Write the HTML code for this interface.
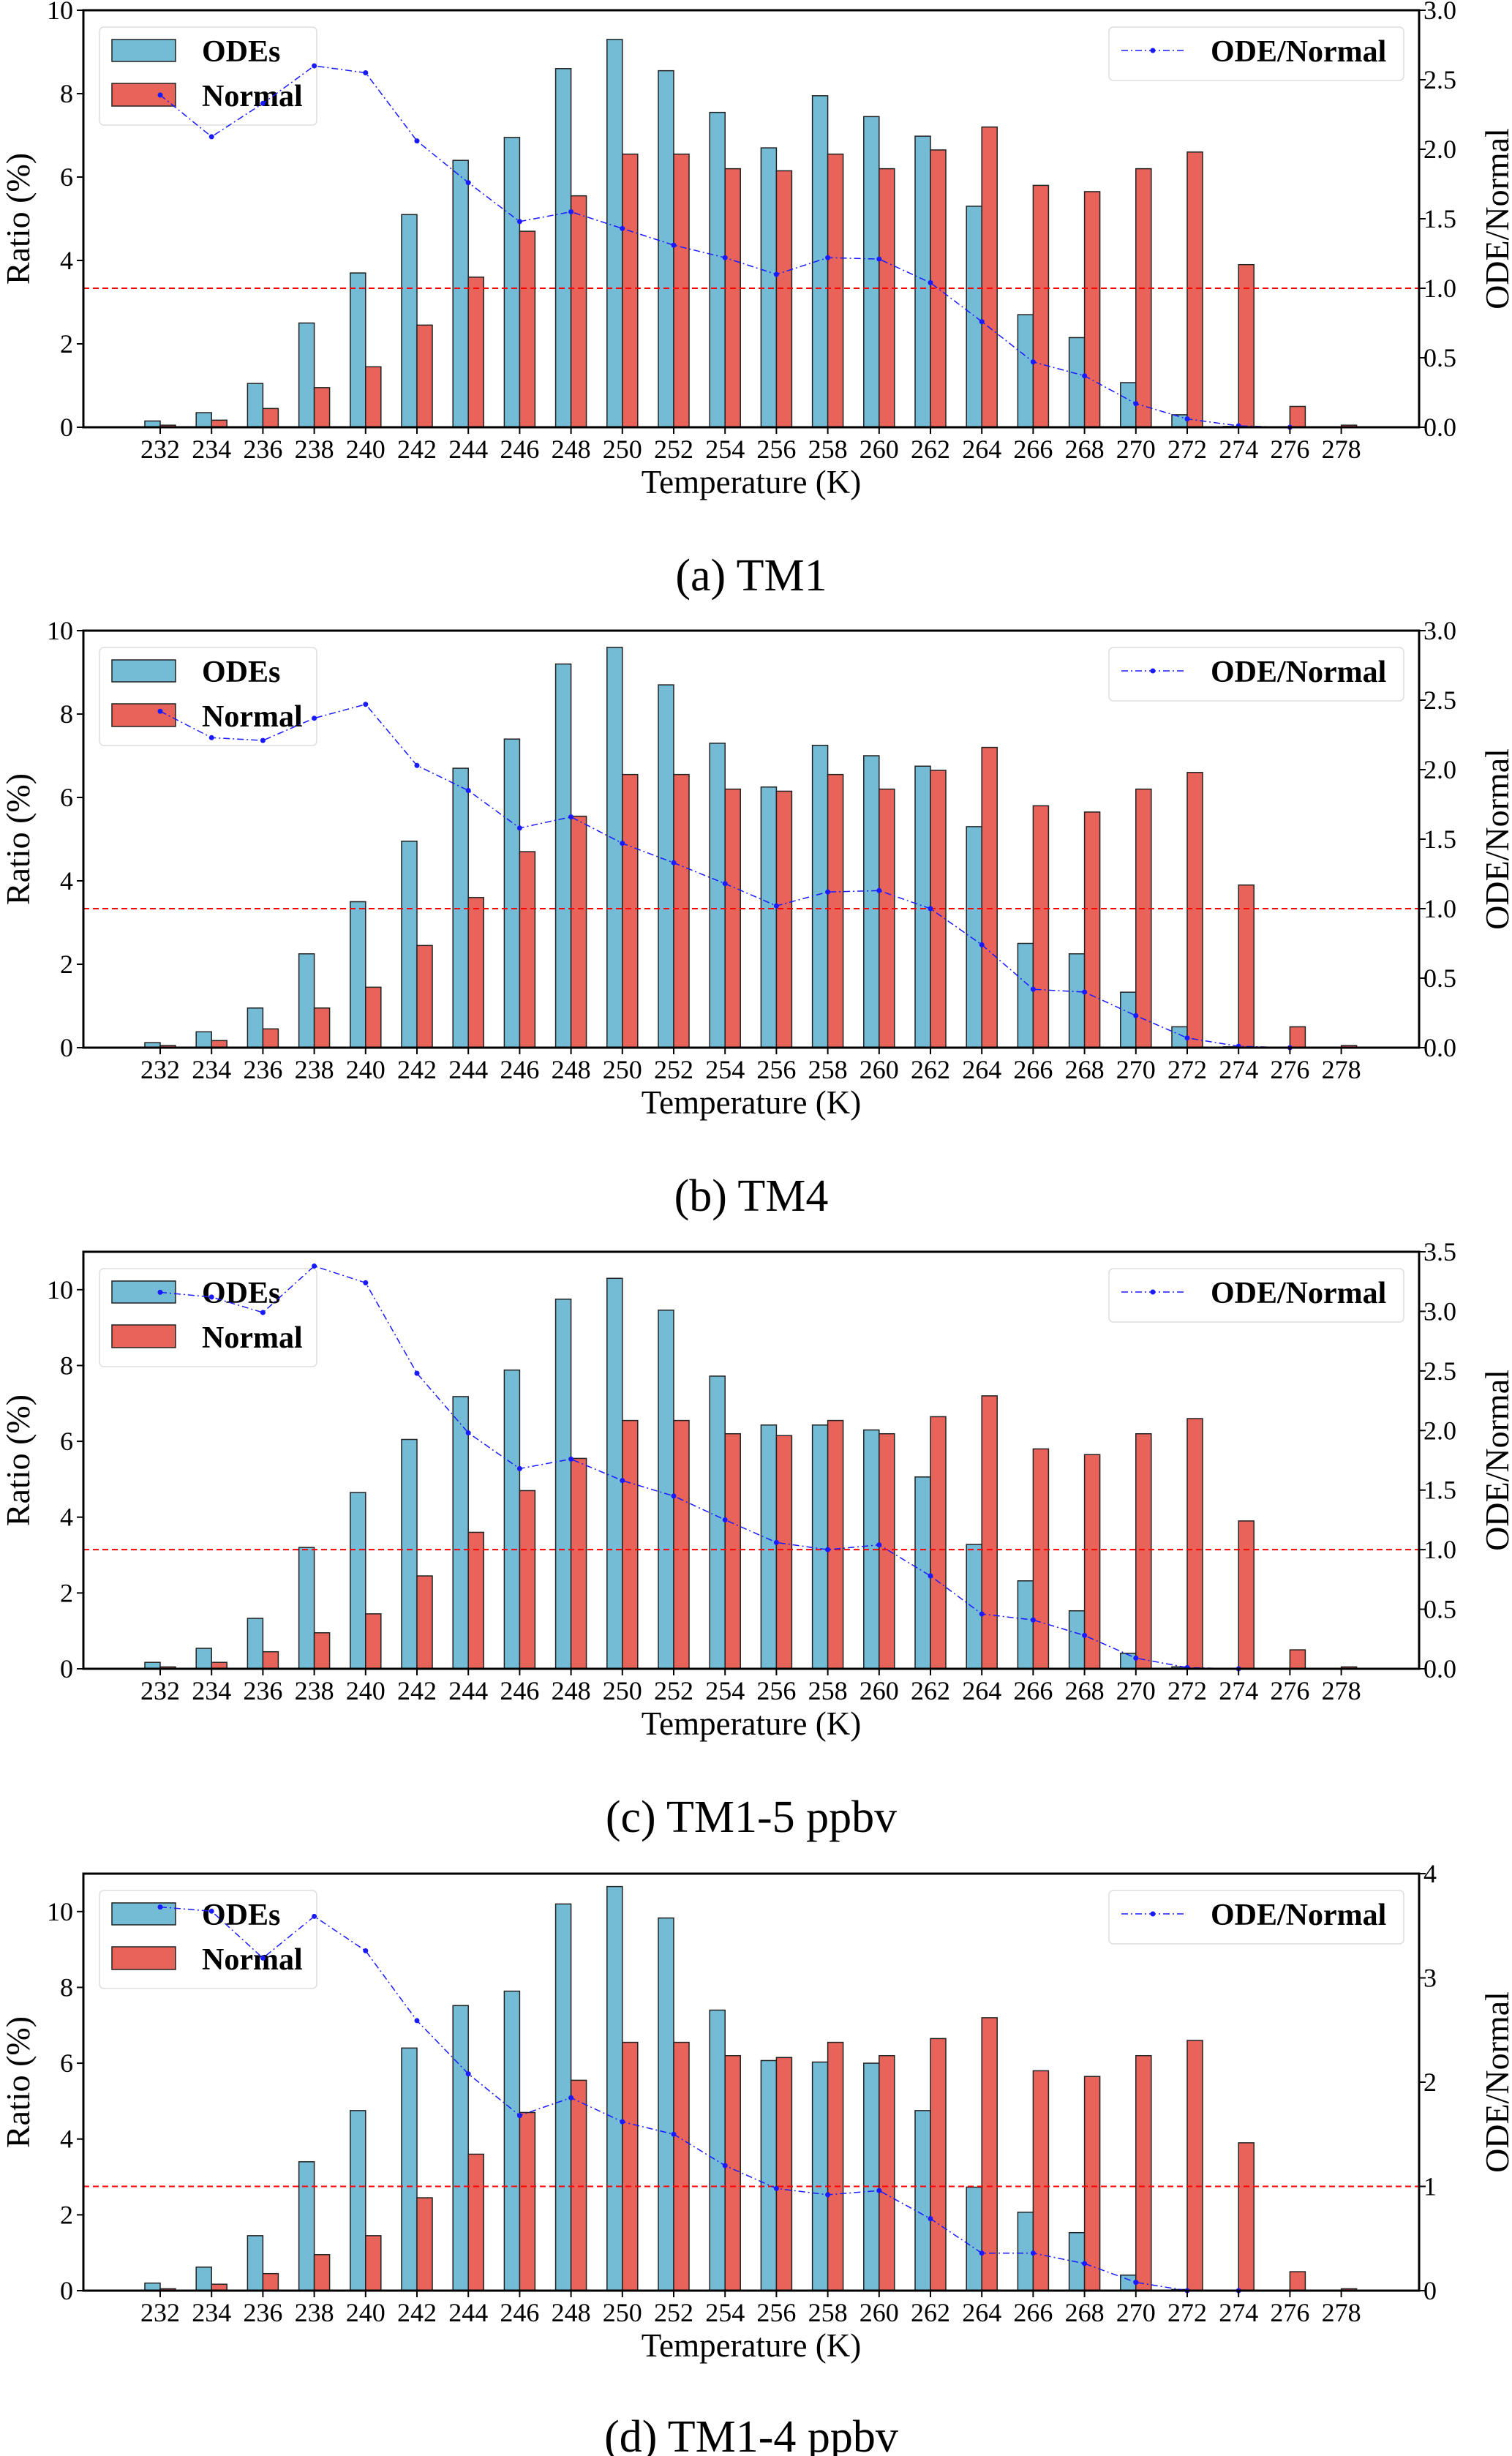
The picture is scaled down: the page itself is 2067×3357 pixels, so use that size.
<!DOCTYPE html>
<html><head><meta charset="utf-8"><style>
html,body{margin:0;padding:0;background:#fff}
svg{display:block}
text{font-family:"Liberation Serif","DejaVu Serif",serif;fill:#000}
</style></head>
<body>
<svg id="fig" width="2067" height="3357" viewBox="0 0 2067 3357" xmlns="http://www.w3.org/2000/svg"></svg>
<script>
const temps = [232,234,236,238,240,242,244,246,248,250,252,254,256,258,260,262,264,266,268,270,272,274,276,278];
const normal = [0.05,0.17,0.45,0.95,1.45,2.45,3.6,4.7,5.55,6.55,6.55,6.2,6.15,6.55,6.2,6.65,7.2,5.8,5.65,6.2,6.6,3.9,0.5,0.05];
const odesA = [0.15,0.35,1.05,2.5,3.7,5.1,6.4,6.95,8.6,9.3,8.55,7.55,6.7,7.95,7.45,6.98,5.3,2.7,2.15,1.07,0.3,0.02,0,0];
const ratioA = [2.39,2.09,2.33,2.6,2.55,2.06,1.76,1.48,1.55,1.43,1.31,1.22,1.1,1.22,1.21,1.04,0.76,0.47,0.37,0.17,0.06,0.01,0,null];
const odesB = [0.12,0.38,0.95,2.25,3.5,4.95,6.7,7.4,9.2,9.6,8.7,7.3,6.25,7.25,7.0,6.75,5.3,2.5,2.25,1.33,0.5,0.02,0,0];
const ratioB = [2.42,2.23,2.21,2.37,2.47,2.03,1.85,1.58,1.66,1.47,1.33,1.18,1.02,1.12,1.13,1.0,0.74,0.42,0.4,0.23,0.07,0.01,0,null];
const odesC = [0.17,0.54,1.33,3.2,4.65,6.05,7.18,7.88,9.75,10.3,9.46,7.72,6.43,6.43,6.3,5.06,3.28,2.32,1.53,0.41,0.05,0,0,0];
const ratioC = [3.16,3.12,2.99,3.38,3.24,2.48,1.98,1.68,1.76,1.58,1.45,1.25,1.06,1.0,1.04,0.78,0.46,0.41,0.28,0.09,0.01,0,null,null];
const odesD = [0.2,0.62,1.45,3.4,4.75,6.4,7.52,7.9,10.2,10.66,9.83,7.4,6.07,6.03,6.0,4.75,2.73,2.07,1.53,0.41,0.03,0,0,0];
const ratioD = [3.68,3.64,3.19,3.59,3.26,2.59,2.08,1.68,1.85,1.62,1.5,1.2,0.98,0.92,0.96,0.69,0.36,0.36,0.26,0.08,0,0,null,null];
const leftTicks = [0,2,4,6,8,10];
const rightTicksAB = ["0.0","0.5","1.0","1.5","2.0","2.5","3.0"];
const rightTicksC = ["0.0","0.5","1.0","1.5","2.0","2.5","3.0","3.5"];
const rightTicksD = ["0","1","2","3","4"];
const captions = ["(a) TM1","(b) TM4","(c) TM1-5 ppbv","(d) TM1-4 ppbv"];

const NS="http://www.w3.org/2000/svg";
const svg=document.getElementById('fig');
function mk(tag,attrs,parent,txt){const e=document.createElementNS(NS,tag);for(const k in attrs)e.setAttribute(k,attrs[k]);if(txt!==undefined)e.textContent=txt;(parent||svg).appendChild(e);return e;}

const X0=114,X1=1940;
function xOf(t){return 219+(t-232)*35.1;}

const panels=[
 {top:14,bot:584,lmax:10,rmax:3,rt:rightTicksAB,odes:odesA,ratio:ratioA,cap:786},
 {top:862,bot:1432,lmax:10,rmax:3,rt:rightTicksAB,odes:odesB,ratio:ratioB,cap:1634},
 {top:1711,bot:2281,lmax:11,rmax:3.5,rt:rightTicksC,odes:odesC,ratio:ratioC,cap:2483},
 {top:2561,bot:3131,lmax:11,rmax:4,rt:rightTicksD,odes:odesD,ratio:ratioD,cap:3330}
];

panels.forEach((p,pi)=>{
 const g=mk('g',{});
 
 
 const yL=v=>p.bot-v/p.lmax*(p.bot-p.top);
 const yR=v=>p.bot-v/p.rmax*(p.bot-p.top);
 // left legend (drawn below the ratio line)
 const lg=mk('g',{},g);
 
 
 mk('rect',{x:136,y:p.top+23,width:297,height:134,rx:6,fill:'#fff','fill-opacity':0.8,stroke:'#ddd','stroke-width':1.5},lg);
 mk('rect',{x:153,y:p.top+40,width:87,height:30,fill:'#74bcd6',stroke:'#222','stroke-width':1.5},lg);
 mk('rect',{x:153,y:p.top+100,width:87,height:31,fill:'#e8635a',stroke:'#222','stroke-width':1.5},lg);
 const l1=mk('text',{x:276,y:p.top+70,'font-size':42,'font-weight':'bold'},lg,'ODEs');
 
 
 const l2=mk('text',{x:276,y:p.top+131,'font-size':42,'font-weight':'bold'},lg,'Normal');
 
 
 // right legend
 const rg=mk('g',{},g);
 
 
 mk('rect',{x:1516,y:p.top+23,width:403,height:73,rx:6,fill:'#fff','fill-opacity':0.8,stroke:'#ddd','stroke-width':1.5},rg);
 mk('line',{x1:1533,x2:1619,y1:p.top+55,y2:p.top+55,stroke:'#1a1aff','stroke-width':1.5,'stroke-dasharray':'9,4,2,4'},rg);
 mk('circle',{cx:1576,cy:p.top+55,r:3.5,fill:'#1a1aff'},rg);
 const l3=mk('text',{x:1655,y:p.top+70,'font-size':42,'font-weight':'bold'},rg,'ODE/Normal');
 
 
 // bars
 temps.forEach((t,i)=>{
  const x=xOf(t);
  const hb=p.bot-yL(p.odes[i]);
  if(hb>0.3){const b=mk('rect',{x:x-21,y:yL(p.odes[i]),width:21,height:hb,fill:'#74bcd6',stroke:'#222','stroke-width':1.5},g);
   
   }
  const hr=p.bot-yL(normal[i]);
  if(hr>0.3){const r=mk('rect',{x:x,y:yL(normal[i]),width:21,height:hr,fill:'#e8635a',stroke:'#222','stroke-width':1.5},g);
   
   }
 });
 const rl=mk('line',{x1:X0,x2:X1,y1:yR(1),y2:yR(1),stroke:'#ff0000','stroke-width':2,'stroke-dasharray':'8,5'},g);
 
 
 let pts=[];
 temps.forEach((t,i)=>{if(p.ratio[i]!==null)pts.push([xOf(t),yR(p.ratio[i])]);});
 const pl=mk('polyline',{points:pts.map(q=>q.join(',')).join(' '),fill:'none',stroke:'#1a1aff','stroke-width':1.5,'stroke-dasharray':'9,4,2,4'},g);
 
 
 pts.forEach(q=>{const c=mk('circle',{cx:q[0],cy:q[1],r:3.5,fill:'#1a1aff'},g);
  
  });
 const fr=mk('rect',{x:X0,y:p.top,width:X1-X0,height:p.bot-p.top,fill:'none',stroke:'#000','stroke-width':3},g);
 
 
 leftTicks.forEach(v=>{
  const y=yL(v);
  mk('line',{x1:X0-9,x2:X0,y1:y,y2:y,stroke:'#000','stroke-width':2},g);
  const tx=mk('text',{x:X0-14,y:y+12,'text-anchor':'end','font-size':36},g,String(v));
  
  
 });
 const rn=p.rt.length-1;
 p.rt.forEach((lab,k)=>{
  const v=k*p.rmax/rn;
  const y=yR(v);
  mk('line',{x1:X1,x2:X1+9,y1:y,y2:y,stroke:'#000','stroke-width':2},g);
  const tx=mk('text',{x:X1+6,y:y+12,'font-size':36},g,lab);
  
  
 });
 temps.forEach(t=>{
  const x=xOf(t);
  mk('line',{x1:x,x2:x,y1:p.bot,y2:p.bot+9,stroke:'#000','stroke-width':2},g);
  const tx=mk('text',{x:x,y:p.bot+42,'text-anchor':'middle','font-size':36},g,String(t));
  
  
 });
 const xt=mk('text',{x:1027,y:p.bot+90,'text-anchor':'middle','font-size':45},g,'Temperature (K)');
 
 
 const mid=(p.top+p.bot)/2;
 const yt=mk('text',{x:0,y:0,'text-anchor':'middle','font-size':46,transform:`translate(40,${mid}) rotate(-90)`},g,'Ratio (%)');
 
 
 const yt2=mk('text',{x:0,y:0,'text-anchor':'middle','font-size':46,transform:`translate(2062,${mid}) rotate(-90)`},g,'ODE/Normal');
 
 
 const cp=mk('text',{x:1027,y:p.cap+21,'text-anchor':'middle','font-size':62},g,captions[pi]);
 
 
});
</script>
</body></html>
